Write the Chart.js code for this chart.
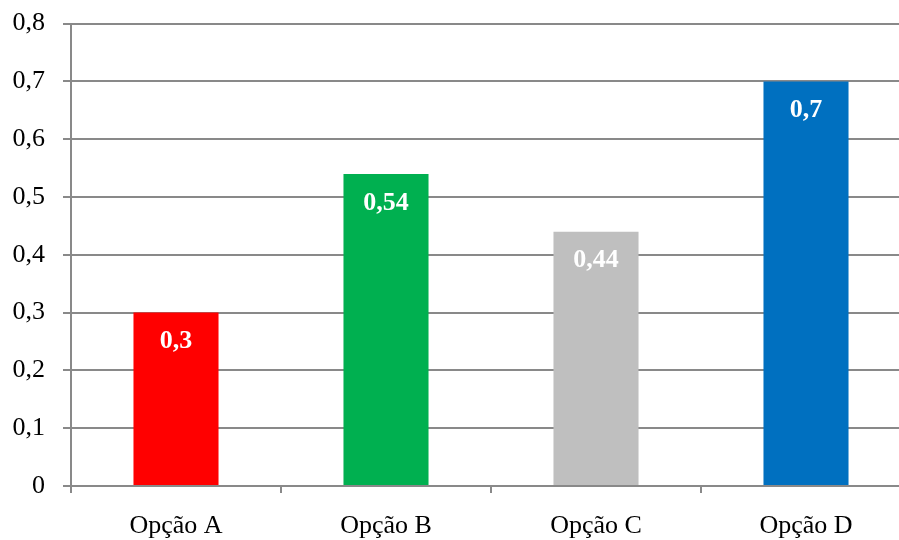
<!DOCTYPE html>
<html><head><meta charset="utf-8">
<script src="https://cdn.jsdelivr.net/npm/chart.js@4"></script>
<style>html,body{margin:0;padding:0;overflow:hidden;background:#fff}#wrap{width:921px;height:550px;position:relative;margin-top:-10px}</style>
</head><body><div id="wrap"><canvas id="c"></canvas></div>
<script>
const categories = ['Opção A','Opção B','Opção C','Opção D'];
const values = [0.3, 0.54, 0.44, 0.7];
const barColors = ['#FF0000','#00B050','#BFBFBF','#0070C0'];
const yTicks = [0,0.1,0.2,0.3,0.4,0.5,0.6,0.7,0.8];
const fmt = v => v === 0 ? '0' : String(+v.toFixed(2)).replace('.', ',');
const SERIF = '"Liberation Serif","Times New Roman",serif';
const labelPlugin = {
  id: 'barLabels',
  afterDatasetsDraw(chart) {
    const ctx = chart.ctx;
    const meta = chart.getDatasetMeta(0);
    ctx.save();
    ctx.fillStyle = '#fff';
    ctx.font = 'bold 26px ' + SERIF;
    ctx.textAlign = 'center';
    ctx.textBaseline = 'middle';
    meta.data.forEach((bar, i) => {
      ctx.fillText(fmt(values[i]), bar.x, bar.y + 29);
    });
    ctx.restore();
  }
};
new Chart(document.getElementById('c'), {
  type: 'bar',
  data: { labels: categories, datasets: [{ data: values, backgroundColor: barColors, categoryPercentage: 1, barPercentage: 0.405 }] },
  options: {
    responsive: true, maintainAspectRatio: false, animation: false,
    layout: { padding: { top: 7, left: 0, right: 10, bottom: 0 } },
    plugins: { legend: { display: false }, tooltip: { enabled: false } },
    scales: {
      x: {
        grid: { drawOnChartArea: false, drawTicks: true, tickLength: 7, color: '#898989', lineWidth: 2, offset: true },
        border: { color: '#898989', width: 2 },
        ticks: { color: '#000', font: { family: SERIF, size: 26 }, padding: 18 },
        afterFit(s) { s.height = 54; }
      },
      y: {
        min: 0, max: 0.8,
        afterBuildTicks(s) { s.ticks = yTicks.map(v => ({ value: v })); },
        grid: { color: '#898989', lineWidth: 2, tickLength: 8 },
        border: { color: '#898989', width: 2 },
        ticks: { color: '#000', font: { family: SERIF, size: 26 }, padding: 18, callback: v => fmt(v) },
        afterFit(s) { s.width = 71; }
      }
    }
  },
  plugins: [labelPlugin]
});
</script></body></html>
